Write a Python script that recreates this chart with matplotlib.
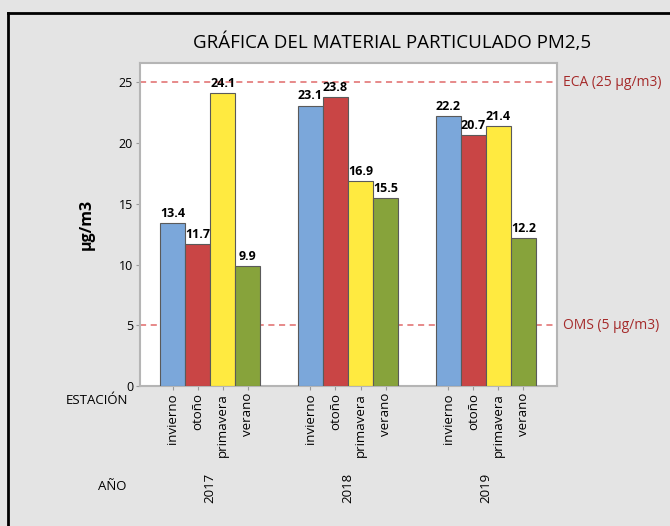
import numpy as np
import matplotlib
matplotlib.use("Agg")
import matplotlib.pyplot as plt
from matplotlib.lines import Line2D
import matplotlib.transforms as mtransforms

plt.rcParams["font.family"] = ["Open Sans", "DejaVu Sans"]

# datos
anios = ["2017", "2018", "2019"]
estaciones = ["invierno", "otoño", "primavera", "verano"]
valores = {
    "2017": [13.4, 11.7, 24.1, 9.9],
    "2018": [23.1, 23.8, 16.9, 15.5],
    "2019": [22.2, 20.7, 21.4, 12.2],
}
colores = ["#7ba7da", "#c94545", "#ffea40", "#87a33b"]
eca = 25
oms = 5

fig = plt.figure(figsize=(6.7, 5.26), dpi=100)
fig.patch.set_facecolor("#e4e4e4")
ax = fig.add_axes([140 / 670, 1 - 386 / 526, 417 / 670, 323 / 526])
ax.set_facecolor("white")

# marco negro arriba e izquierda
fig.add_artist(Line2D([8 / 670, 8 / 670], [0, 1 - 13 / 526], color="black", lw=2, transform=fig.transFigure))
fig.add_artist(Line2D([8 / 670, 1], [1 - 13 / 526, 1 - 13 / 526], color="black", lw=2, transform=fig.transFigure))

posiciones = []
etiquetas = []
for g, anio in enumerate(anios):
    for i, est in enumerate(estaciones):
        x = g * 5.5 + i
        v = valores[anio][i]
        ax.bar(x, v, width=1.0, color=colores[i], edgecolor="#5a5a5a", linewidth=0.8, zorder=3)
        ax.text(x, v + 0.25, f"{v:.1f}", ha="center", va="bottom", fontsize=9, fontweight="bold", zorder=4)
        posiciones.append(x)
        etiquetas.append(est)

ax.set_xlim(-1.3, 15.34)
ax.set_ylim(0, 26.6)
ax.set_yticks([0, 5, 10, 15, 20, 25])
ax.tick_params(axis="y", labelsize=9, length=3, color="#999999", pad=2)
ax.set_xticks(posiciones)
ax.set_xticklabels(etiquetas, rotation=90, fontsize=9.5)
ax.tick_params(axis="x", length=3, color="#999999", pad=2)

for s in ax.spines.values():
    s.set_color("#b5b5b5")
    s.set_linewidth(1.5)

# lineas de referencia
ax.axhline(eca, color="#e06a6a", ls=(0, (4, 3)), lw=1.1, zorder=2)
ax.axhline(oms, color="#e06a6a", ls=(0, (4, 3)), lw=1.1, zorder=2)
ax.text(1.015, eca, "ECA (25 µg/m3)", transform=mtransforms.blended_transform_factory(ax.transAxes, ax.transData),
        va="center", ha="left", fontsize=10, color="#a52a2a")
ax.text(1.015, oms, "OMS (5 µg/m3)", transform=mtransforms.blended_transform_factory(ax.transAxes, ax.transData),
        va="center", ha="left", fontsize=10, color="#a52a2a")

ax.set_ylabel("µg/m3", fontsize=11.5, fontweight="bold", labelpad=17)

# etiquetas de año
trans = mtransforms.blended_transform_factory(ax.transData, ax.transAxes)
for g, anio in enumerate(anios):
    ax.text(g * 5.5 + 1.5, -0.316, anio, rotation=90, ha="center", va="center", fontsize=9.5, transform=trans)

fig.text(128 / 670, 1 - 400 / 526, "ESTACIÓN", ha="right", va="center", fontsize=9.5)
fig.text(126 / 670, 1 - 487 / 526, "AÑO", ha="right", va="center", fontsize=9.5)

fig.text(392 / 670, 1 - 42 / 526, "GRÁFICA DEL MATERIAL PARTICULADO PM2,5", ha="center", va="center", fontsize=13.5)

fig.savefig("out.png", dpi=100, facecolor=fig.get_facecolor())
